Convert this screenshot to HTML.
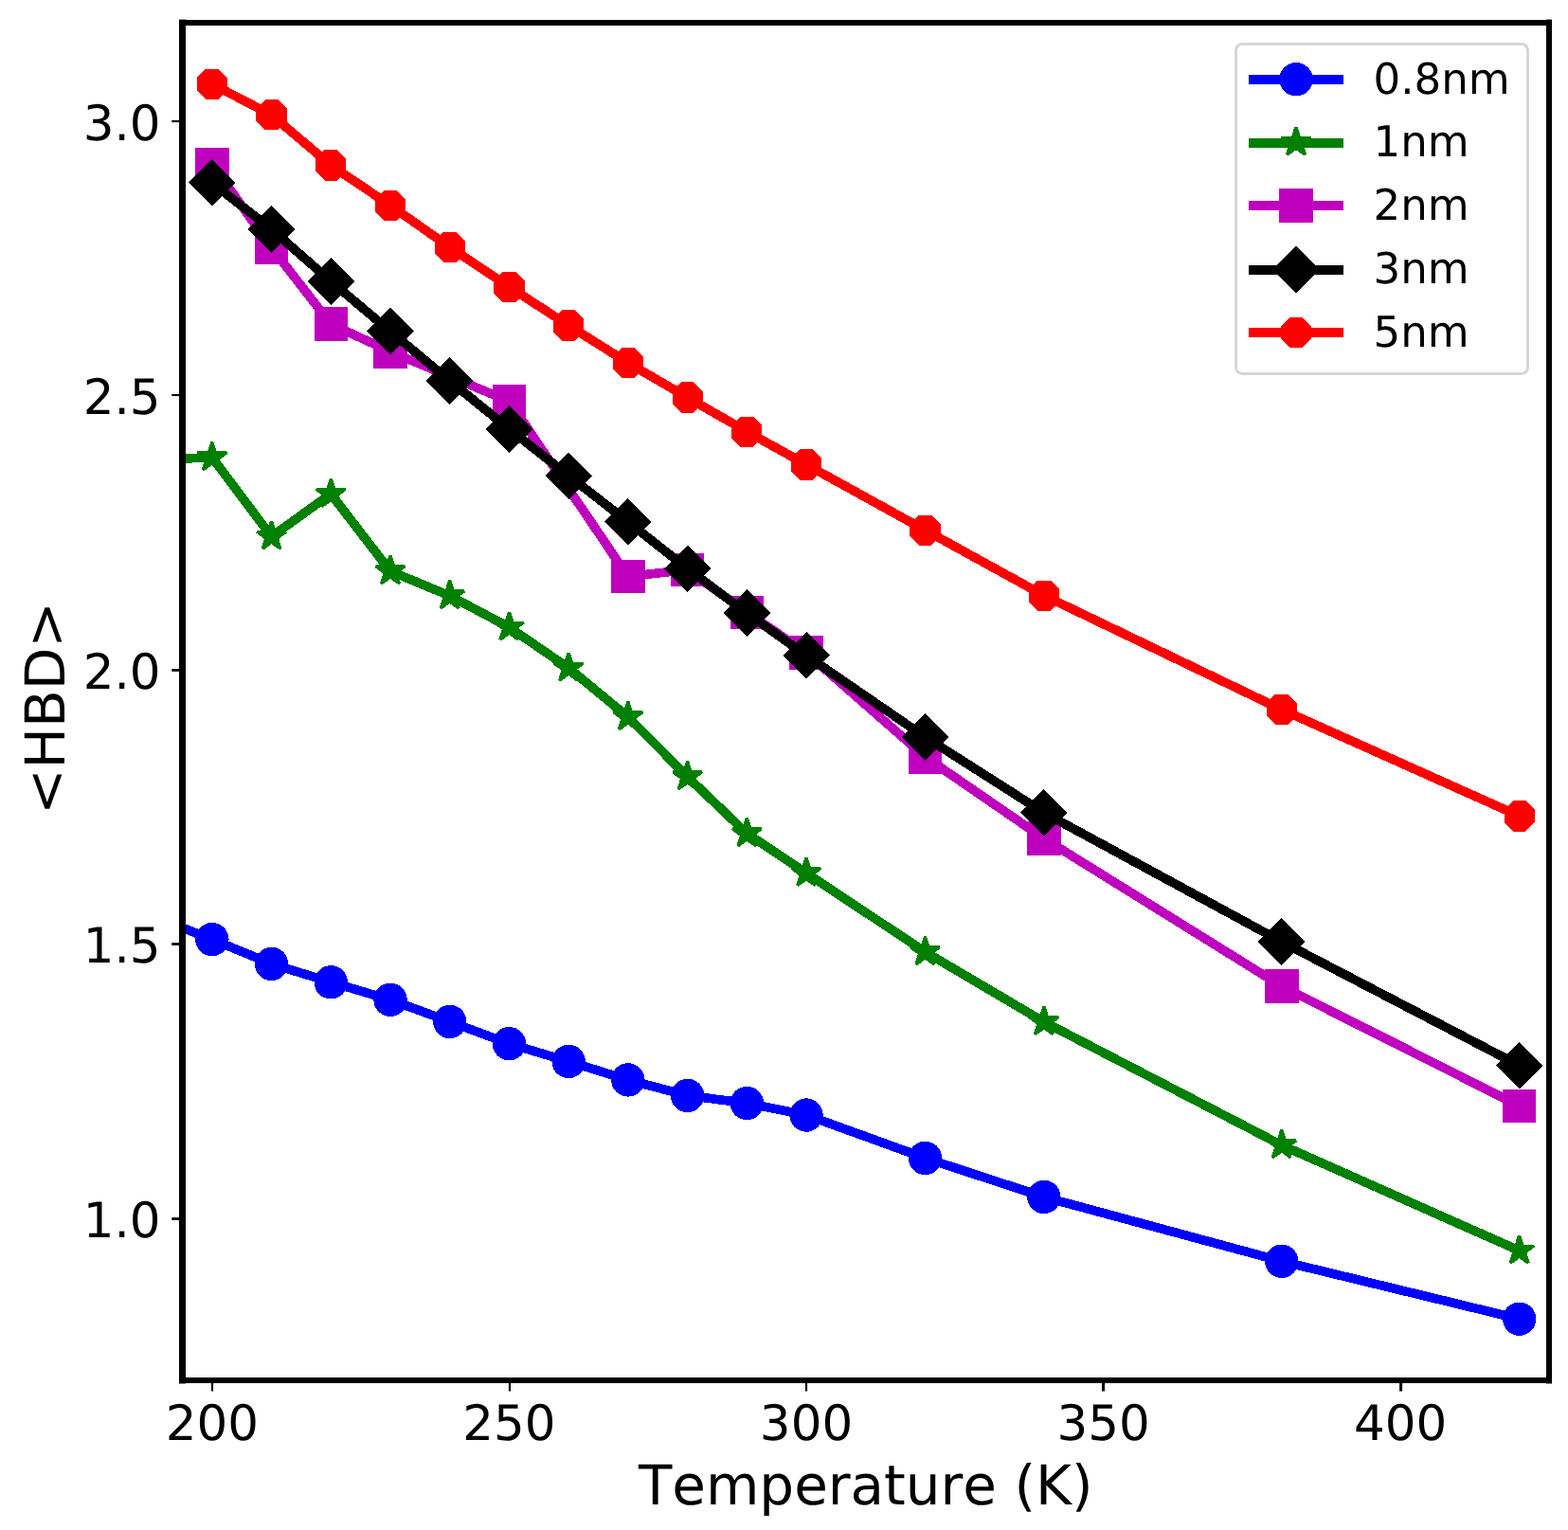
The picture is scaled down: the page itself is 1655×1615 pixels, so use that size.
<!DOCTYPE html>
<html lang="en"><head><meta charset="utf-8"><title>&lt;HBD&gt; vs Temperature (K)</title>
<style>
html,body{margin:0;padding:0;background:#fff;}
body{width:1655px;height:1615px;overflow:hidden;}
svg{display:block;}
text{font-family:"DejaVu Sans","Liberation Sans",sans-serif;fill:#000;font-kerning:none;font-variant-ligatures:none;text-rendering:geometricPrecision;}
.tick{font-size:51.5px;}
.lab{font-size:57.95px;}
.leg{font-size:45.07px;}
.crisp{shape-rendering:crispEdges;}
</style></head><body>
<svg width="1655" height="1615" viewBox="0 0 1655 1615">
<rect x="0" y="0" width="1655" height="1615" fill="#ffffff"/>
<defs><clipPath id="axclip"><rect x="192.5" y="24" width="1442.5" height="1433"/></clipPath></defs>
<g class="crisp" clip-path="url(#axclip)">
<polyline points="161.14,967 223.86,991.6 286.58,1017.4 349.29,1036.8 412.01,1055.3 474.73,1078.4 537.45,1101.7 600.16,1120.45 662.88,1139.9 725.6,1156.4 788.32,1164.5 851.03,1177.05 976.47,1222.4 1101.9,1263.5 1352.77,1331.3 1603.64,1392.2" fill="none" stroke="#0000ff" stroke-width="9.66" stroke-linejoin="round" stroke-linecap="square"/>
<circle cx="223.86" cy="991.6" r="17.7" fill="#0000ff"/>
<circle cx="286.58" cy="1017.4" r="17.7" fill="#0000ff"/>
<circle cx="349.29" cy="1036.8" r="17.7" fill="#0000ff"/>
<circle cx="412.01" cy="1055.3" r="17.7" fill="#0000ff"/>
<circle cx="474.73" cy="1078.4" r="17.7" fill="#0000ff"/>
<circle cx="537.45" cy="1101.7" r="17.7" fill="#0000ff"/>
<circle cx="600.16" cy="1120.45" r="17.7" fill="#0000ff"/>
<circle cx="662.88" cy="1139.9" r="17.7" fill="#0000ff"/>
<circle cx="725.6" cy="1156.4" r="17.7" fill="#0000ff"/>
<circle cx="788.32" cy="1164.5" r="17.7" fill="#0000ff"/>
<circle cx="851.03" cy="1177.05" r="17.7" fill="#0000ff"/>
<circle cx="976.47" cy="1222.4" r="17.7" fill="#0000ff"/>
<circle cx="1101.9" cy="1263.5" r="17.7" fill="#0000ff"/>
<circle cx="1352.77" cy="1331.3" r="17.7" fill="#0000ff"/>
<circle cx="1603.64" cy="1392.2" r="17.7" fill="#0000ff"/>
<polyline points="161.14,485.2 223.86,482.9 286.58,566.3 349.29,521.4 412.01,602.9 474.73,628.9 537.45,662.1 600.16,705.1 662.88,756.8 725.6,819.9 788.32,879.85 851.03,921.6 976.47,1004.8 1101.9,1078.65 1352.77,1208.8 1603.64,1320.15" fill="none" stroke="#008000" stroke-width="9.66" stroke-linejoin="round" stroke-linecap="square"/>
<polygon points="223.86,466.8 220.25,477.93 208.55,477.93 218.01,484.8 214.4,495.92 223.86,489.05 233.32,495.92 229.71,484.8 239.17,477.93 227.47,477.93" fill="#008000" stroke="#008000" stroke-width="3.22" stroke-linejoin="bevel"/>
<polygon points="286.58,550.2 282.96,561.33 271.27,561.33 280.73,568.2 277.12,579.32 286.58,572.45 296.04,579.32 292.42,568.2 301.88,561.33 290.19,561.33" fill="#008000" stroke="#008000" stroke-width="3.22" stroke-linejoin="bevel"/>
<polygon points="349.29,505.3 345.68,516.43 333.99,516.43 343.45,523.3 339.83,534.42 349.29,527.55 358.75,534.42 355.14,523.3 364.6,516.43 352.91,516.43" fill="#008000" stroke="#008000" stroke-width="3.22" stroke-linejoin="bevel"/>
<polygon points="412.01,586.8 408.4,597.93 396.7,597.93 406.16,604.8 402.55,615.92 412.01,609.05 421.47,615.92 417.86,604.8 427.32,597.93 415.62,597.93" fill="#008000" stroke="#008000" stroke-width="3.22" stroke-linejoin="bevel"/>
<polygon points="474.73,612.8 471.11,623.93 459.42,623.93 468.88,630.8 465.27,641.92 474.73,635.05 484.19,641.92 480.58,630.8 490.04,623.93 478.34,623.93" fill="#008000" stroke="#008000" stroke-width="3.22" stroke-linejoin="bevel"/>
<polygon points="537.45,646 533.83,657.13 522.14,657.13 531.6,664 527.99,675.12 537.45,668.25 546.91,675.12 543.29,664 552.75,657.13 541.06,657.13" fill="#008000" stroke="#008000" stroke-width="3.22" stroke-linejoin="bevel"/>
<polygon points="600.16,689 596.55,700.13 584.86,700.13 594.32,707 590.7,718.12 600.16,711.25 609.62,718.12 606.01,707 615.47,700.13 603.78,700.13" fill="#008000" stroke="#008000" stroke-width="3.22" stroke-linejoin="bevel"/>
<polygon points="662.88,740.7 659.27,751.83 647.57,751.83 657.03,758.7 653.42,769.82 662.88,762.95 672.34,769.82 668.73,758.7 678.19,751.83 666.49,751.83" fill="#008000" stroke="#008000" stroke-width="3.22" stroke-linejoin="bevel"/>
<polygon points="725.6,803.8 721.98,814.93 710.29,814.93 719.75,821.8 716.14,832.92 725.6,826.05 735.06,832.92 731.44,821.8 740.91,814.93 729.21,814.93" fill="#008000" stroke="#008000" stroke-width="3.22" stroke-linejoin="bevel"/>
<polygon points="788.32,863.75 784.7,874.88 773.01,874.88 782.47,881.75 778.85,892.87 788.32,886 797.78,892.87 794.16,881.75 803.62,874.88 791.93,874.88" fill="#008000" stroke="#008000" stroke-width="3.22" stroke-linejoin="bevel"/>
<polygon points="851.03,905.5 847.42,916.63 835.73,916.63 845.19,923.5 841.57,934.62 851.03,927.75 860.49,934.62 856.88,923.5 866.34,916.63 854.65,916.63" fill="#008000" stroke="#008000" stroke-width="3.22" stroke-linejoin="bevel"/>
<polygon points="976.47,988.7 972.85,999.83 961.16,999.83 970.62,1006.7 967.01,1017.82 976.47,1010.95 985.93,1017.82 982.31,1006.7 991.77,999.83 980.08,999.83" fill="#008000" stroke="#008000" stroke-width="3.22" stroke-linejoin="bevel"/>
<polygon points="1101.9,1062.56 1098.29,1073.68 1086.59,1073.68 1096.06,1080.55 1092.44,1091.67 1101.9,1084.8 1111.36,1091.67 1107.75,1080.55 1117.21,1073.68 1105.52,1073.68" fill="#008000" stroke="#008000" stroke-width="3.22" stroke-linejoin="bevel"/>
<polygon points="1352.77,1192.7 1349.16,1203.83 1337.46,1203.83 1346.92,1210.7 1343.31,1221.82 1352.77,1214.95 1362.23,1221.82 1358.62,1210.7 1368.08,1203.83 1356.39,1203.83" fill="#008000" stroke="#008000" stroke-width="3.22" stroke-linejoin="bevel"/>
<polygon points="1603.64,1304.06 1600.03,1315.18 1588.33,1315.18 1597.79,1322.05 1594.18,1333.17 1603.64,1326.3 1613.1,1333.17 1609.49,1322.05 1618.95,1315.18 1607.25,1315.18" fill="#008000" stroke="#008000" stroke-width="3.22" stroke-linejoin="bevel"/>
<polyline points="223.86,173.4 286.58,261.4 349.29,341.95 412.01,371.2 537.45,423.5 662.88,608.5 725.6,601.5 788.32,646.45 851.03,689 976.47,798.9 1101.9,885.1 1352.77,1041.05 1603.64,1167.4" fill="none" stroke="#bf00bf" stroke-width="9.66" stroke-linejoin="round" stroke-linecap="square"/>
<rect x="206.11" y="155.65" width="35.5" height="35.5" fill="#bf00bf"/>
<rect x="268.83" y="243.65" width="35.5" height="35.5" fill="#bf00bf"/>
<rect x="331.54" y="324.2" width="35.5" height="35.5" fill="#bf00bf"/>
<rect x="394.26" y="353.45" width="35.5" height="35.5" fill="#bf00bf"/>
<rect x="519.7" y="405.75" width="35.5" height="35.5" fill="#bf00bf"/>
<rect x="645.13" y="590.75" width="35.5" height="35.5" fill="#bf00bf"/>
<rect x="707.85" y="583.75" width="35.5" height="35.5" fill="#bf00bf"/>
<rect x="770.57" y="628.7" width="35.5" height="35.5" fill="#bf00bf"/>
<rect x="833.28" y="671.25" width="35.5" height="35.5" fill="#bf00bf"/>
<rect x="958.72" y="781.15" width="35.5" height="35.5" fill="#bf00bf"/>
<rect x="1084.15" y="867.35" width="35.5" height="35.5" fill="#bf00bf"/>
<rect x="1335.02" y="1023.3" width="35.5" height="35.5" fill="#bf00bf"/>
<rect x="1585.89" y="1149.65" width="35.5" height="35.5" fill="#bf00bf"/>
<polyline points="223.86,192.95 286.58,242 349.29,297 412.01,349.8 474.73,402 537.45,452.9 600.16,502.1 662.88,550.8 725.6,600.3 788.32,647.1 851.03,691.9 976.47,778 1101.9,857.85 1352.77,994 1603.64,1124.7" fill="none" stroke="#000000" stroke-width="9.66" stroke-linejoin="round" stroke-linecap="square"/>
<polygon points="223.86,168.06 248.75,192.95 223.86,217.84 198.97,192.95" fill="#000000"/>
<polygon points="286.58,217.11 311.46,242 286.58,266.89 261.69,242" fill="#000000"/>
<polygon points="349.29,272.11 374.18,297 349.29,321.89 324.41,297" fill="#000000"/>
<polygon points="412.01,324.91 436.9,349.8 412.01,374.69 387.12,349.8" fill="#000000"/>
<polygon points="474.73,377.11 499.62,402 474.73,426.89 449.84,402" fill="#000000"/>
<polygon points="537.45,428.01 562.33,452.9 537.45,477.79 512.56,452.9" fill="#000000"/>
<polygon points="600.16,477.21 625.05,502.1 600.16,526.99 575.28,502.1" fill="#000000"/>
<polygon points="662.88,525.91 687.77,550.8 662.88,575.69 637.99,550.8" fill="#000000"/>
<polygon points="725.6,575.41 750.49,600.3 725.6,625.19 700.71,600.3" fill="#000000"/>
<polygon points="788.32,622.21 813.2,647.1 788.32,671.99 763.43,647.1" fill="#000000"/>
<polygon points="851.03,667.01 875.92,691.9 851.03,716.79 826.14,691.9" fill="#000000"/>
<polygon points="976.47,753.11 1001.36,778 976.47,802.89 951.58,778" fill="#000000"/>
<polygon points="1101.9,832.96 1126.79,857.85 1101.9,882.74 1077.01,857.85" fill="#000000"/>
<polygon points="1352.77,969.11 1377.66,994 1352.77,1018.89 1327.88,994" fill="#000000"/>
<polygon points="1603.64,1099.81 1628.53,1124.7 1603.64,1149.59 1578.75,1124.7" fill="#000000"/>
<polyline points="223.86,88.8 286.58,121.3 349.29,174.4 412.01,216.9 474.73,260.9 537.45,302.9 600.16,343.5 662.88,383 725.6,419.5 788.32,455.6 851.03,490.4 976.47,559.6 1101.9,628.6 1352.77,749 1603.64,861.4" fill="none" stroke="#ff0000" stroke-width="9.66" stroke-linejoin="round" stroke-linecap="square"/>
<polygon points="239.96,82.13 230.53,72.7 217.19,72.7 207.76,82.13 207.76,95.47 217.19,104.9 230.53,104.9 239.96,95.47" fill="#ff0000"/>
<polygon points="302.68,114.63 293.24,105.2 279.91,105.2 270.48,114.63 270.48,127.97 279.91,137.4 293.24,137.4 302.68,127.97" fill="#ff0000"/>
<polygon points="365.39,167.73 355.96,158.3 342.62,158.3 333.19,167.73 333.19,181.07 342.62,190.5 355.96,190.5 365.39,181.07" fill="#ff0000"/>
<polygon points="428.11,210.23 418.68,200.8 405.34,200.8 395.91,210.23 395.91,223.57 405.34,233 418.68,233 428.11,223.57" fill="#ff0000"/>
<polygon points="490.83,254.23 481.4,244.8 468.06,244.8 458.63,254.23 458.63,267.57 468.06,277 481.4,277 490.83,267.57" fill="#ff0000"/>
<polygon points="553.55,296.23 544.11,286.8 530.78,286.8 521.35,296.23 521.35,309.57 530.78,319 544.11,319 553.55,309.57" fill="#ff0000"/>
<polygon points="616.26,336.83 606.83,327.4 593.49,327.4 584.06,336.83 584.06,350.17 593.49,359.6 606.83,359.6 616.26,350.17" fill="#ff0000"/>
<polygon points="678.98,376.33 669.55,366.9 656.21,366.9 646.78,376.33 646.78,389.67 656.21,399.1 669.55,399.1 678.98,389.67" fill="#ff0000"/>
<polygon points="741.7,412.83 732.27,403.4 718.93,403.4 709.5,412.83 709.5,426.17 718.93,435.6 732.27,435.6 741.7,426.17" fill="#ff0000"/>
<polygon points="804.42,448.93 794.98,439.5 781.65,439.5 772.22,448.93 772.22,462.27 781.65,471.7 794.98,471.7 804.42,462.27" fill="#ff0000"/>
<polygon points="867.13,483.73 857.7,474.3 844.36,474.3 834.93,483.73 834.93,497.07 844.36,506.5 857.7,506.5 867.13,497.07" fill="#ff0000"/>
<polygon points="992.57,552.93 983.14,543.5 969.8,543.5 960.37,552.93 960.37,566.27 969.8,575.7 983.14,575.7 992.57,566.27" fill="#ff0000"/>
<polygon points="1118,621.93 1108.57,612.5 1095.23,612.5 1085.8,621.93 1085.8,635.27 1095.23,644.7 1108.57,644.7 1118,635.27" fill="#ff0000"/>
<polygon points="1368.87,742.33 1359.44,732.9 1346.1,732.9 1336.67,742.33 1336.67,755.67 1346.1,765.1 1359.44,765.1 1368.87,755.67" fill="#ff0000"/>
<polygon points="1619.74,854.73 1610.31,845.3 1596.97,845.3 1587.54,854.73 1587.54,868.07 1596.97,877.5 1610.31,877.5 1619.74,868.07" fill="#ff0000"/>
</g>
<g fill="#000">
<rect x="222.9" y="1457" width="2.2" height="11.5"/>
<rect x="536.9" y="1457" width="2.2" height="11.5"/>
<rect x="849.9" y="1457" width="2.2" height="11.5"/>
<rect x="1163" y="1457" width="3" height="11.5"/>
<rect x="1477.1" y="1457" width="3" height="11.5"/>
<rect x="181.3" y="126.9" width="11.2" height="2.2"/>
<rect x="181.3" y="415.95" width="11.2" height="2.1"/>
<rect x="181.3" y="706.1" width="11.2" height="2.7"/>
<rect x="181.3" y="995.1" width="11.2" height="2.8"/>
<rect x="181.3" y="1285.1" width="11.2" height="2.8"/>
</g>
<g fill="#000">
<rect x="189" y="20.6" width="7" height="1439.9"/>
<rect x="1632" y="20.6" width="6" height="1439.9"/>
<rect x="189" y="21" width="1449" height="6"/>
<rect x="189" y="1454" width="1449" height="6"/>
</g>
<text class="tick" x="223.86" y="1519.8" text-anchor="middle">200</text>
<text class="tick" x="537.45" y="1519.8" text-anchor="middle">250</text>
<text class="tick" x="851.03" y="1519.8" text-anchor="middle">300</text>
<text class="tick" x="1164.62" y="1519.8" text-anchor="middle">350</text>
<text class="tick" x="1478.21" y="1519.8" text-anchor="middle">400</text>
<text class="tick" x="169.6" y="147.6" text-anchor="end">3.0</text>
<text class="tick" x="169.6" y="436.6" text-anchor="end">2.5</text>
<text class="tick" x="169.6" y="727.05" text-anchor="end">2.0</text>
<text class="tick" x="169.6" y="1016.1" text-anchor="end">1.5</text>
<text class="tick" x="169.6" y="1306.1" text-anchor="end">1.0</text>
<text class="lab" x="913.75" y="1588.3" text-anchor="middle">Temperature (K)</text>
<text class="lab" transform="translate(68 747.6) rotate(-90)" text-anchor="middle">&lt;HBD&gt;</text>
<path d="M1311.9,46.5 L1605.1,46.5 Q1612.5,46.5 1612.5,53.9 L1612.5,387.1 Q1612.5,394.5 1605.1,394.5 L1311.9,394.5 Q1304.5,394.5 1304.5,387.1 L1304.5,53.9 Q1304.5,46.5 1311.9,46.5 Z" fill="#ffffff" fill-opacity="0.8" stroke="#d6d6d6" stroke-width="3" stroke-linejoin="miter"/>
<g class="crisp">
<rect x="1318" y="79" width="100" height="10" fill="#0000ff"/>
<circle cx="1368" cy="83.7" r="17.7" fill="#0000ff"/>
<rect x="1318" y="146" width="100" height="10" fill="#008000"/>
<polygon points="1368,134 1364.39,145.13 1352.69,145.13 1362.15,152 1358.54,163.12 1368,156.25 1377.46,163.12 1373.85,152 1383.31,145.13 1371.61,145.13" fill="#008000" stroke="#008000" stroke-width="3.22" stroke-linejoin="bevel"/>
<rect x="1318" y="212" width="100" height="10" fill="#bf00bf"/>
<rect x="1350.25" y="199.25" width="35.5" height="35.5" fill="#bf00bf"/>
<rect x="1318" y="280" width="100" height="10" fill="#000000"/>
<polygon points="1368,259.51 1392.89,284.4 1368,309.29 1343.11,284.4" fill="#000000"/>
<rect x="1318" y="346" width="100" height="10" fill="#ff0000"/>
<polygon points="1384.1,344.33 1374.67,334.9 1361.33,334.9 1351.9,344.33 1351.9,357.67 1361.33,367.1 1374.67,367.1 1384.1,357.67" fill="#ff0000"/>
</g>
<text class="leg" x="1449.5" y="99">0.8nm</text>
<text class="leg" x="1449.5" y="165.3">1nm</text>
<text class="leg" x="1449.5" y="232">2nm</text>
<text class="leg" x="1449.5" y="299.2">3nm</text>
<text class="leg" x="1449.5" y="366">5nm</text>
</svg>
</body></html>
